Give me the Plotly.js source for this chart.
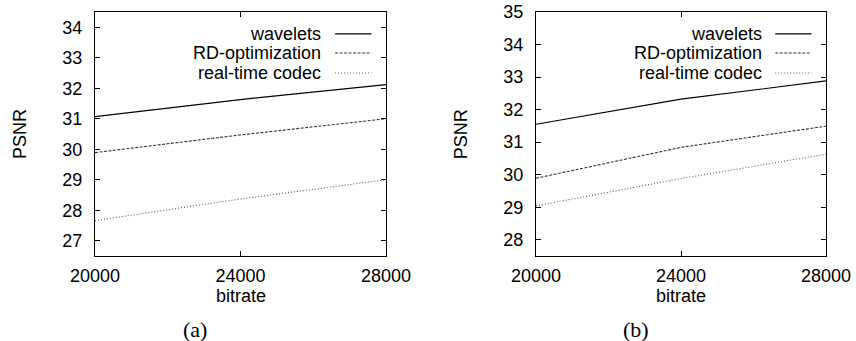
<!DOCTYPE html>
<html>
<head>
<meta charset="utf-8">
<script src="https://cdn.plot.ly/plotly-3.0.1.min.js"></script>
<style>html,body{margin:0;padding:0;background:#fff;} #chart{width:856px;height:341px;}</style>
</head>
<body>
<div id="chart"></div>
<script>
// ---- data ----
const bitrate = [20000, 24000, 28000];
const seriesNames = ["wavelets", "RD-optimization", "real-time codec"];
// panel (a)
const waveletsA = [31.07, 31.63, 32.12];
const rdOptA = [29.89, 30.47, 31.00];
const realTimeA = [27.66, 28.37, 29.00];
// panel (b)
const waveletsB = [31.55, 32.32, 32.88];
const rdOptB = [29.89, 30.84, 31.49];
const realTimeB = [29.04, 29.88, 30.63];
const xTicks = [20000, 24000, 28000];
const yTicksA = [27, 28, 29, 30, 31, 32, 33, 34];
const yTicksB = [28, 29, 30, 31, 32, 33, 34, 35];
const captions = ["(a)", "(b)"];

// ---- styles ----
const styles = [
  {color: "#000000", dash: "solid", width: 1.2},
  {color: "#333333", dash: "3px,1.5px", width: 1.1},
  {color: "#555555", dash: "1px,2px", width: 1.1}
];
const FONT = "Liberation Sans, Arial, Helvetica, sans-serif";
const FS = 18;

const panels = [
  {vals: [waveletsA, rdOptA, realTimeA], xa: "x", ya: "y", yr: [26.5, 34.5], yt: yTicksA},
  {vals: [waveletsB, rdOptB, realTimeB], xa: "x2", ya: "y2", yr: [27.5, 35], yt: yTicksB}
];

const traces = [];
const annotations = [];
const shapes = [];
const legRowY = [0.91, 0.832, 0.75];

panels.forEach((p, pi) => {
  p.vals.forEach((v, si) => {
    traces.push({
      x: bitrate, y: v, type: "scatter", mode: "lines",
      name: seriesNames[si], xaxis: p.xa, yaxis: p.ya,
      line: {color: styles[si].color, dash: styles[si].dash, width: styles[si].width},
      showlegend: false
    });
    // legend (gnuplot style: text right-aligned, sample on the right)
    annotations.push({
      xref: p.xa + " domain", yref: p.ya + " domain",
      x: 0.785, y: legRowY[si], xanchor: "right", yanchor: "middle",
      text: seriesNames[si], showarrow: false,
      font: {family: FONT, size: FS, color: "#000"}
    });
    shapes.push({
      type: "line", xref: p.xa + " domain", yref: p.ya + " domain",
      x0: 0.825, x1: 0.95, y0: legRowY[si], y1: legRowY[si],
      line: {color: styles[si].color, dash: styles[si].dash, width: styles[si].width}
    });
  });
  const dx = p.xa + " domain", dy = p.ya + " domain";
  annotations.push({xref: dx, yref: dy, x: -0.258, y: 0.5, textangle: -90,
    text: "PSNR", showarrow: false, xanchor: "center", yanchor: "middle",
    font: {family: FONT, size: FS, color: "#000"}});
  annotations.push({xref: dx, yref: dy, x: 0.5, y: -0.162,
    text: "bitrate", showarrow: false, xanchor: "center", yanchor: "middle",
    font: {family: FONT, size: FS, color: "#000"}});
  annotations.push({xref: dx, yref: dy, x: 0.345, y: -0.303,
    text: captions[pi], showarrow: false, xanchor: "center", yanchor: "middle",
    font: {family: "Liberation Serif, DejaVu Serif, serif", size: 22, color: "#000"}});
});

function xAxis(dom, anchor) {
  return {
    domain: dom, anchor: anchor, range: [20000, 28000],
    tickvals: xTicks, ticktext: xTicks.map(String),
    ticks: "inside", ticklen: 5, tickwidth: 1, tickcolor: "#000",
    showline: true, linecolor: "#000", linewidth: 1.2, mirror: "ticks",
    showgrid: false, zeroline: false, fixedrange: true,
    tickfont: {family: FONT, size: FS, color: "#000"}, ticklabelstandoff: 3
  };
}
function yAxis(dom, anchor, r, t) {
  return {
    domain: dom, anchor: anchor, range: r, tickvals: t,
    ticks: "inside", ticklen: 5, tickwidth: 1, tickcolor: "#000",
    showline: true, linecolor: "#000", linewidth: 1.2, mirror: "ticks",
    showgrid: false, zeroline: false, fixedrange: true,
    tickfont: {family: FONT, size: FS, color: "#000"}, ticklabelstandoff: 8
  };
}
const W = 856, H = 341;
const yDom = [1 - 256 / H, 1 - 12 / H];
const layout = {
  width: W, height: H,
  margin: {l: 0, r: 0, t: 0, b: 0},
  paper_bgcolor: "#fff", plot_bgcolor: "#fff",
  showlegend: false,
  xaxis: xAxis([95 / W, 386 / W], "y"),
  yaxis: yAxis(yDom, "x", panels[0].yr, panels[0].yt),
  xaxis2: xAxis([536 / W, 826 / W], "y2"),
  yaxis2: yAxis(yDom, "x2", panels[1].yr, panels[1].yt),
  annotations: annotations,
  shapes: shapes
};
Plotly.newPlot("chart", traces, layout, {displayModeBar: false, staticPlot: true});
</script>
</body>
</html>
